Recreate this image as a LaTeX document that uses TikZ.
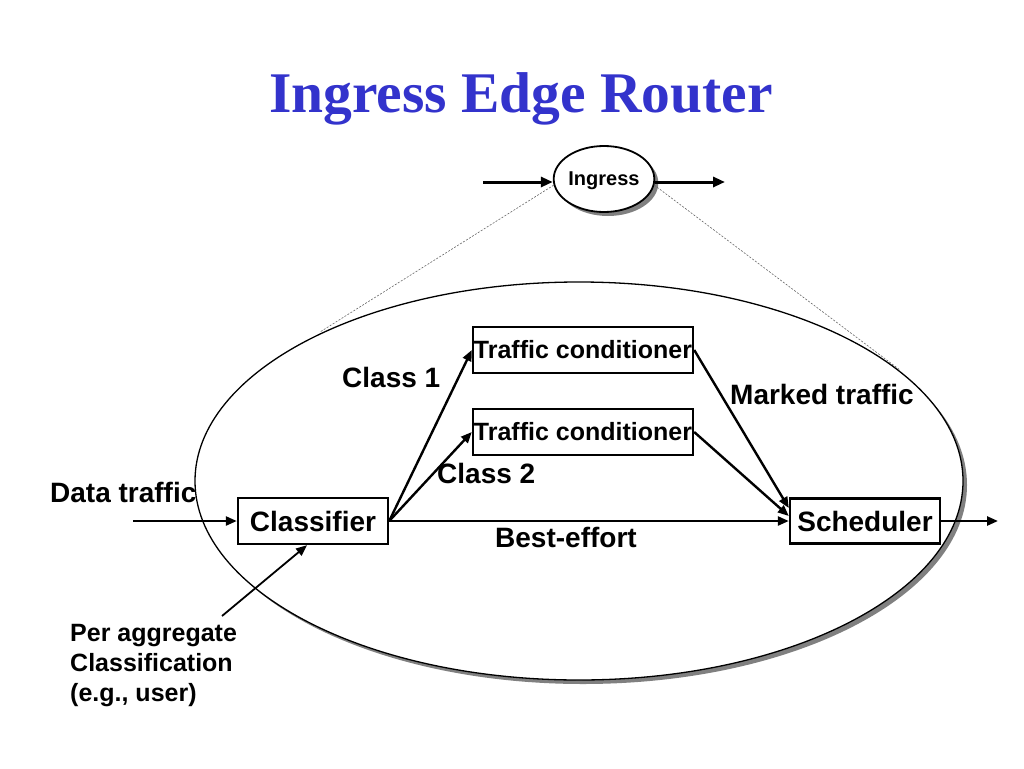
\documentclass[tikz,border=0pt]{standalone}
\usepackage{fontspec}
\setmainfont{Liberation Serif}
\newfontfamily\lsans{Liberation Sans}
\usetikzlibrary{arrows.meta,shapes.geometric,shadows}
\definecolor{titleblue}{RGB}{51,51,204}
\begin{document}
\begin{tikzpicture}[x=1pt, y=-1pt,
		box/.style = {draw, line width=2.4pt, inner sep=0pt, font=\lsans\bfseries\fontsize{28}{30}\selectfont},
		lbl/.style = {inner sep=0pt, anchor=base west, font=\lsans\bfseries\fontsize{28}{30}\selectfont},
		arr/.style = {line width=2.4pt, -{Triangle[length=11pt, width=9pt]}},
		guide/.style = {line width=0.6pt, black!60, dash pattern=on 2pt off 1.5pt},
		shadowed/.style = {drop shadow={shadow xshift=4pt, shadow yshift=-4pt, fill=black!50, opacity=1}}]
			\useasboundingbox (0,0) rectangle (1024,768);
			\node[font=\bfseries\fontsize{57.5}{60}\selectfont, text=titleblue, anchor=base, inner sep=0pt] (t) at (521,112) {Ingress Edge Router};
			\node[draw, ellipse, line width=1.8pt, fill=white, shadowed, minimum width=85pt, minimum height=66pt, inner sep=0pt, text depth=0pt, font=\lsans\bfseries\fontsize{20}{22}\selectfont] (1) at (604,179) {Ingress};
			\coordinate (pre) at (483,182);
			\coordinate (post) at (725,182);
			\coordinate (tanL) at (320,332);
			\coordinate (tanR) at (900,370);
			\draw[guide] (1.187) -- (tanL);
			\draw[guide] (1.-7) -- (tanR);
			\draw[shadowed, fill=white, line width=1.3pt] (579,481) ellipse [x radius=384pt, y radius=199pt];
			\draw[arr, line width=3pt, -{Triangle[length=12pt, width=10pt]}] (pre) -- ([yshift=-3pt]1.west);
			\draw[arr, line width=3pt, -{Triangle[length=12pt, width=10pt]}] ([yshift=-3pt]1.east) -- (post);
			\node[box, minimum width=150pt, minimum height=46pt] (2) at (313,521) {Classifier};
			\node[box, font=\lsans\bfseries\fontsize{25}{28}\selectfont, minimum width=220pt, minimum height=46pt] (3) at (583,350) {Traffic conditioner};
			\node[box, font=\lsans\bfseries\fontsize{25}{28}\selectfont, minimum width=220pt, minimum height=46pt] (4) at (583,432) {Traffic conditioner};
			\node[box, minimum width=150pt, minimum height=45pt] (5) at (865,521) {Scheduler};
			\node[lbl] (6) at (342,387) {Class 1};
			\node[lbl] (7) at (730,404) {Marked traffic};
			\node[lbl] (8) at (437,483) {Class 2};
			\node[lbl] (9) at (495,547) {Best-effort};
			\node[lbl] (10) at (50,502) {Data traffic};
			\node[lbl, font=\lsans\bfseries\fontsize{25}{30}\selectfont, align=left, anchor=north west] (11) at (70,624) {Per aggregate\\Classification\\(e.g., user)};
			\coordinate (src) at (133,521);
			\coordinate (dst) at (998,521);
			\coordinate (agg) at (222,616);
			\draw[arr] (src) -- (2);
			\draw[arr] (2.east) -- (3.west);
			\draw[arr] (2.east) -- (4.west);
			\draw[arr] (2.east) -- (5.west);
			\draw[arr] (3.east) -- ([yshift=13pt]5.west);
			\draw[arr] (4.east) -- ([yshift=5pt]5.west);
			\draw[arr] (5) -- (dst);
			\draw[arr, line width=1.8pt] (agg) -- ([xshift=-6pt]2.south);
		\end{tikzpicture}
\end{document}
